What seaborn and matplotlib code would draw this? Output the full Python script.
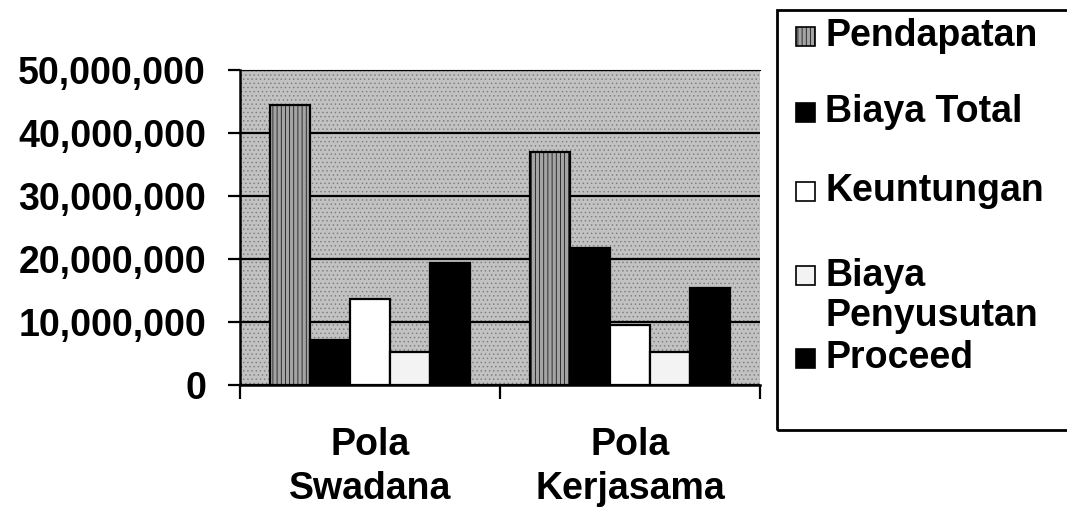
import matplotlib
matplotlib.use("Agg")
import matplotlib.pyplot as plt
from matplotlib.patches import Rectangle
from matplotlib.ticker import FuncFormatter, FixedLocator
import seaborn as sns
import pandas as pd

# ---- data ----
categories = ["Pola\nSwadana", "Pola\nKerjasama"]
items = ["Pendapatan", "Biaya Total", "Keuntungan", "Biaya\nPenyusutan", "Proceed"]
pendapatan = [44.4e6, 37.0e6]
biaya_total = [7.1e6, 21.7e6]
keuntungan = [13.6e6, 9.5e6]
biaya_penyusutan = [5.2e6, 5.2e6]
proceed = [19.4e6, 15.4e6]
series = [pendapatan, biaya_total, keuntungan, biaya_penyusutan, proceed]
yticks = [0, 10e6, 20e6, 30e6, 40e6, 50e6]

rows = []
for item, vals in zip(items, series):
    for cat, v in zip(categories, vals):
        rows.append({"Pola": cat, "Komponen": item, "Nilai": v})
df = pd.DataFrame(rows)

face = {"Pendapatan": "#a4a4a4", "Biaya Total": "#000000", "Keuntungan": "#ffffff",
        "Biaya\nPenyusutan": "#f3f3f3", "Proceed": "#000000"}
hatches = {"Pendapatan": "||||", "Biaya Total": None, "Keuntungan": None,
           "Biaya\nPenyusutan": None, "Proceed": None}

sns.set_theme(style="white")
plt.rcParams["font.family"] = ["Liberation Sans", "DejaVu Sans"]
plt.rcParams["font.weight"] = "bold"
plt.rcParams["hatch.linewidth"] = 0.5

FS = 27
W, H = 1067, 514
fig = plt.figure(figsize=(W / 100, H / 100), dpi=100)
ax = fig.add_axes([240 / W, 1 - 385 / H, 520 / W, 315 / H])

# dithered grey plot background
ax.set_facecolor("#c2c2c2")
ax.patch.set_hatch("....")
ax.patch.set_edgecolor("#7a7a7a")
ax.patch.set_linewidth(0)

sns.barplot(data=df, x="Pola", y="Nilai", hue="Komponen", order=categories,
            hue_order=items, palette=face, width=0.77, saturation=1,
            edgecolor="black", linewidth=1.6, legend=False, ax=ax)

for item, cont in zip(items, ax.containers):
    for bar in cont:
        if hatches[item]:
            bar.set_hatch(hatches[item])

ax.set_xlim(-0.5, 1.5)
ax.set_ylim(0, 50e6)
ax.set_yticks(yticks)
ax.yaxis.set_major_formatter(FuncFormatter(lambda v, p: f"{int(v):,}"))
ax.set_xlabel("")
ax.set_ylabel("")

ax.set_axisbelow(True)
ax.yaxis.grid(True, color="black", linewidth=1.6)
ax.xaxis.grid(False)

ax.tick_params(axis="y", which="major", direction="out", length=8.5, width=1.6,
               pad=16, labelsize=FS, colors="black", left=True)
ax.set_xticks([0, 1])
ax.set_xticklabels(categories, linespacing=1.3)
ax.xaxis.set_minor_locator(FixedLocator([-0.5, 0.5, 1.5]))
ax.tick_params(axis="x", which="major", length=0, pad=30, labelsize=FS, colors="black")
ax.tick_params(axis="x", which="minor", direction="out", length=10, width=1.6,
               colors="black", bottom=True)
for lab in ax.get_xticklabels() + ax.get_yticklabels():
    lab.set_fontweight("bold")

for s in ["left", "bottom"]:
    ax.spines[s].set_color("black")
    ax.spines[s].set_linewidth(1.8)
ax.spines["right"].set_visible(False)
ax.spines["top"].set_color("black")
ax.spines["top"].set_linewidth(0.8)

# ---- legend box (drawn by hand to match layout) ----
def fx(px):
    return px / W

def fy(py):
    return 1 - py / H

fig.add_artist(Rectangle((fx(777), fy(430)), 0.35, (430 - 10) / H, transform=fig.transFigure,
                         fill=False, edgecolor="black", linewidth=2))

handle_y = [36, 112, 191, 275, 358]
sq = 19
for item, yc in zip(items, handle_y):
    r = Rectangle((fx(796), fy(yc + sq / 2)), sq / W, sq / H, transform=fig.transFigure,
                  facecolor=face[item], edgecolor="black", linewidth=1.2,
                  hatch=hatches[item])
    fig.add_artist(r)

text_y = [36, 112, 191, 296, 358]
for item, yc in zip(items, text_y):
    fig.text(fx(825), fy(yc), item, ha="left", va="center", fontsize=FS,
             fontweight="bold", color="black", linespacing=1.15)

fig.savefig("out.png", dpi=100)
